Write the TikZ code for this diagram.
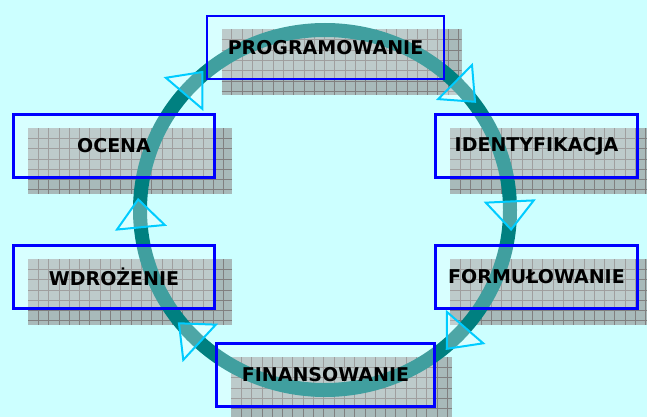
\documentclass[tikz,border=0pt]{standalone}
\usepackage{fontspec}
\setsansfont{DejaVu Sans}
\usetikzlibrary{calc}
\definecolor{bgcyan}{RGB}{204,255,255}
\definecolor{ringteal}{RGB}{0,128,128}
\definecolor{boxblue}{RGB}{0,0,255}
\definecolor{tricyan}{RGB}{0,204,255}
\definecolor{shadowgray}{RGB}{168,186,186}
\definecolor{gridgray}{RGB}{128,128,128}
\tikzset{
  stagebox/.style={draw=boxblue, line width=2.5pt, fill=white, fill opacity=0.25, text opacity=1,
    minimum height=63pt, inner sep=0pt, font=\sffamily\bfseries\fontsize{19}{22}\selectfont},
  shadowbox/.style={fill=shadowgray},
  gridline/.style={draw=gridgray, line width=0.8pt},
  arrowtri/.style={draw=tricyan, line width=2pt, fill=white, fill opacity=0.3},
}
\begin{document}
\begin{tikzpicture}[x=1pt, y=-1pt]
	\fill[bgcyan] (0,0) rectangle (647,417);
	\useasboundingbox (0,0) rectangle (647,417);
	\def\stages{prog/325.5/46.5/237/PROGRAMOWANIE, iden/536.5/145/202/IDENTYFIKACJA,
		form/536.5/276/202/FORMUŁOWANIE, fin/325.5/374/218/FINANSOWANIE,
		wdr/114/276/201/WDROŻENIE, ocena/114/145/201/OCENA}

	\foreach \nm/\cx/\cy/\w/\txt in \stages {
		\begin{scope}[shift={(\cx-\w/2+14.5,\cy-31.5+14.5)}]
			\fill[shadowbox] (0,0) rectangle (\w+3,66);
			\begin{scope}
				\clip (0,0) rectangle (\w+3,66);
				\foreach \gx in {10.3,20.6,...,\w} \draw[gridline] (\gx,0) -- (\gx,66);
				\foreach \gy in {10.3,20.6,...,66} \draw[gridline] (0,\gy) -- (\w+3,\gy);
			\end{scope}
		\end{scope}
	}

	\coordinate (hub) at (325,210);
	\draw[ringteal, line width=14pt] (hub) ellipse [x radius=185pt, y radius=180pt];

	\foreach \nm/\cx/\cy/\w/\txt in \stages
		\node[stagebox, minimum width=\w pt] (\nm) at (\cx,\cy+1) {\txt};

	\foreach \a in {139.6,45.3,2.7,-40.8,227.3,185.5}
		\draw[arrowtri, shift={($(hub)+(\a:185pt and 180pt)$)}, rotate=\a-90]
			(0,-24) -- (28,0) -- (0,24) -- cycle;
\end{tikzpicture}
\end{document}
